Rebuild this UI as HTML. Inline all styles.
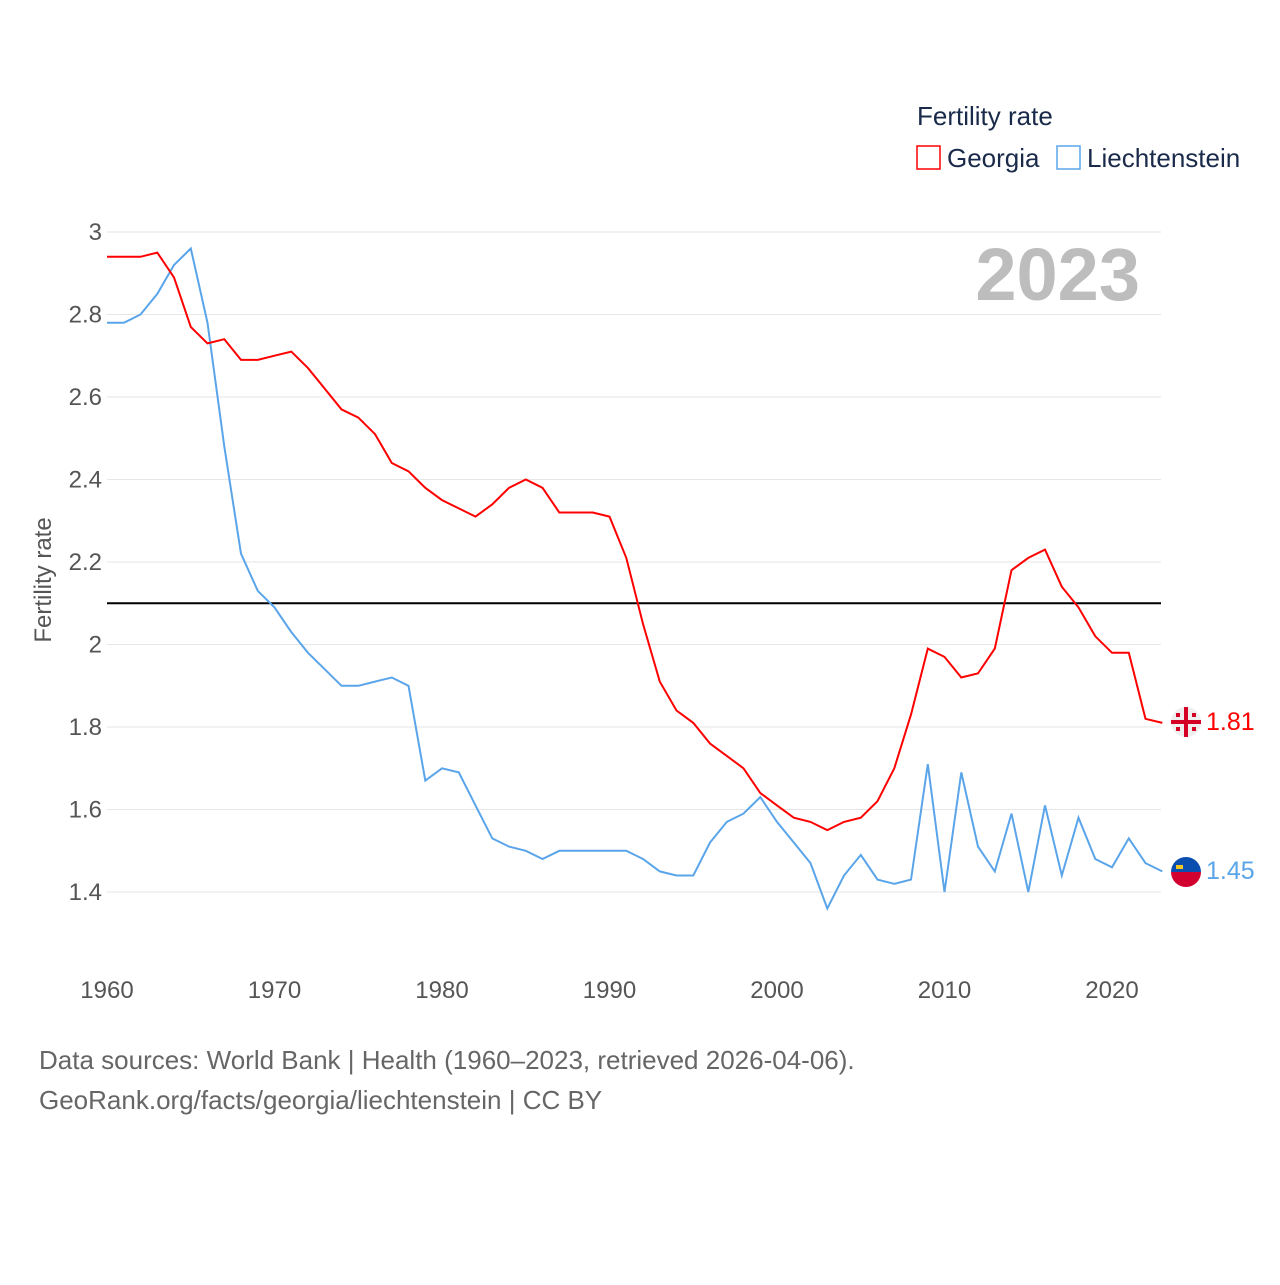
<!DOCTYPE html>
<html><head><meta charset="utf-8"><style>
body{margin:0;background:#fff;font-family:"Liberation Sans",sans-serif}
</style></head><body>
<svg width="1280" height="1280" xmlns="http://www.w3.org/2000/svg" id="svg" style="font-family:'Liberation Sans',sans-serif">
<text x="917" y="125" font-size="26" fill="#1a2a4a">Fertility rate</text>
<rect x="917" y="146" width="23" height="23" fill="none" stroke="#f00" stroke-width="1.5"/>
<text x="947" y="167" font-size="26" fill="#1a2a4a">Georgia</text>
<rect x="1057" y="146" width="23" height="23" fill="none" stroke="#5aa5ea" stroke-width="1.5"/>
<text x="1087" y="167" font-size="26" fill="#1a2a4a">Liechtenstein</text>
<text x="1140" y="300" font-size="74" font-weight="bold" fill="#bdbdbd" text-anchor="end">2023</text>
<text transform="translate(51,580) rotate(-90)" font-size="24" fill="#555" text-anchor="middle">Fertility rate</text>
<g id="grid"></g><g id="lines"></g>
<g>
<circle cx="1186" cy="722" r="15" fill="#eee"/><rect x="1171" y="720" width="30" height="4" fill="#d40026"/><rect x="1184" y="707" width="4" height="30" fill="#d40026"/>
<g fill="#d40026"><rect x="1176" y="713" width="4" height="4"/><rect x="1192" y="713" width="4" height="4"/><rect x="1176" y="727" width="4" height="4"/><rect x="1192" y="727" width="4" height="4"/></g>
</g>
<text x="1206" y="730" font-size="25" fill="#f00">1.81</text>
<g>
<clipPath id="c"><circle cx="1186" cy="872" r="15"/></clipPath>
<g clip-path="url(#c)"><rect x="1171" y="857" width="30" height="15" fill="#0a4eb0"/><rect x="1171" y="872" width="30" height="15" fill="#d2002e"/></g>
<rect x="1176" y="865" width="7" height="4" fill="#f3c820"/>
</g>
<text x="1206" y="879" font-size="25" fill="#5aa5ea">1.45</text>
<text x="39" y="1069" font-size="26" fill="#666">Data sources: World Bank | Health (1960–2023, retrieved 2026-04-06).</text>
<text x="39" y="1109" font-size="26" fill="#666">GeoRank.org/facts/georgia/liechtenstein | CC BY</text>
</svg>
<script>
const years=[];for(let y=1960;y<=2023;y++)years.push(y);
const georgia=[2.94,2.94,2.94,2.95,2.89,2.77,2.73,2.74,2.69,2.69,2.70,2.71,2.67,2.62,2.57,2.55,2.51,2.44,2.42,2.38,2.35,2.33,2.31,2.34,2.38,2.40,2.38,2.32,2.32,2.32,2.31,2.21,2.05,1.91,1.84,1.81,1.76,1.73,1.70,1.64,1.61,1.58,1.57,1.55,1.57,1.58,1.62,1.70,1.83,1.99,1.97,1.92,1.93,1.99,2.18,2.21,2.23,2.14,2.09,2.02,1.98,1.98,1.82,1.81];
const liechtenstein=[2.78,2.78,2.80,2.85,2.92,2.96,2.78,2.48,2.22,2.13,2.09,2.03,1.98,1.94,1.90,1.90,1.91,1.92,1.90,1.67,1.70,1.69,1.61,1.53,1.51,1.50,1.48,1.50,1.50,1.50,1.50,1.50,1.48,1.45,1.44,1.44,1.52,1.57,1.59,1.63,1.57,1.52,1.47,1.36,1.44,1.49,1.43,1.42,1.43,1.71,1.40,1.69,1.51,1.45,1.59,1.40,1.61,1.44,1.58,1.48,1.46,1.53,1.47,1.45];
const yTicks=[1.4,1.6,1.8,2,2.2,2.4,2.6,2.8,3];
const xTicks=[1960,1970,1980,1990,2000,2010,2020];
const replacement=[2.1];
const X=y=>107+(y-1960)*16.75, Y=v=>892-(v-1.4)*412.5;
const NS="http://www.w3.org/2000/svg";
const grid=document.getElementById('grid'),lines=document.getElementById('lines');
function mk(tag,attrs,parent){const e=document.createElementNS(NS,tag);for(const k in attrs)e.setAttribute(k,attrs[k]);parent.appendChild(e);return e;}
yTicks.forEach(v=>{
 const l=mk('line',{x1:107,x2:1161,y1:Y(v),y2:Y(v),stroke:'#e6e6e6'},grid);
 
 
 const t=mk('text',{x:102,y:Y(v)+8,'font-size':24,fill:'#555','text-anchor':'end'},grid);t.textContent=String(v);
 
 
});
xTicks.forEach(y=>{
 const t=mk('text',{x:X(y),y:998,'font-size':24,fill:'#555','text-anchor':'middle'},grid);t.textContent=y;
 
 
});
replacement.forEach(v=>{
 const l=mk('line',{x1:107,x2:1161,y1:Y(v),y2:Y(v),stroke:'#000','stroke-width':2},grid);
 
 
});
function path(data){return data.map((v,i)=>(i?'L':'M')+X(years[i]).toFixed(1)+','+Y(v).toFixed(1)).join('');}
const pl=mk('path',{d:path(liechtenstein),fill:'none',stroke:'#5aa5ea','stroke-width':2},lines);


const pg=mk('path',{d:path(georgia),fill:'none',stroke:'#f00','stroke-width':2},lines);


</script>
</body></html>
